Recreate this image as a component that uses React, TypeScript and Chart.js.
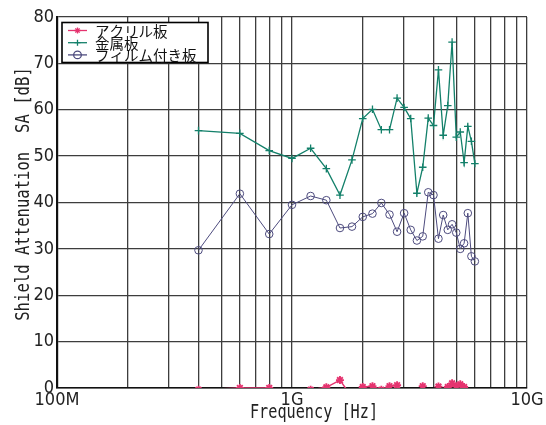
import { useEffect, useRef } from 'react';
import { Chart, registerables } from 'chart.js';

Chart.register(...registerables);

// Frequencies in Hz
const frequencies = [
  4.0e8, 6.0e8, 8.0e8, 1.0e9, 1.2e9, 1.4e9, 1.6e9, 1.8e9, 2.0e9, 2.2e9,
  2.4e9, 2.6e9, 2.8e9, 3.0e9, 3.2e9, 3.4e9, 3.6e9, 3.8e9, 4.0e9, 4.2e9,
  4.4e9, 4.6e9, 4.8e9, 5.0e9, 5.2e9, 5.4e9, 5.6e9, 5.8e9, 6.0e9,
];

// アクリル板 (values below 0 are hidden under the axis)
const acrylic = [
  -0.4, 0.0, 0.0, -2.0, -0.4, 0.15, 1.7, -2.0, 0.2, 0.4,
  -0.4, 0.4, 0.6, -2.0, -2.0, -2.0, 0.4, -2.0, -2.0, 0.3,
  -2.0, 0.2, 1.0, 0.4, 0.8, 0.2, -2.0, -2.0, -2.0,
];

// 金属板
const metal = [
  55.5, 54.9, 51.2, 49.5, 51.7, 47.3, 41.6, 49.2, 58.1, 60.1,
  55.7, 55.7, 62.5, 60.5, 58.1, 42.0, 47.6, 58.2, 56.6, 68.6,
  54.5, 60.9, 74.6, 54.1, 55.2, 48.6, 56.4, 53.2, 48.4,
];

// フィルム付き板
const film = [
  29.7, 41.9, 33.2, 39.5, 41.4, 40.5, 34.5, 34.8, 36.9, 37.6,
  39.9, 37.4, 33.7, 37.7, 34.1, 31.8, 32.7, 42.2, 41.6, 32.2,
  37.3, 34.1, 35.3, 33.5, 30.0, 31.2, 37.7, 28.4, 27.3,
];

const seriesNames = ['アクリル板', '金属板', 'フィルム付き板'];
const seriesColors = ['#e5336f', '#13806a', '#4d4b7e'];
const seriesMarkers = ['star', 'cross', 'circle'];

const xGridValues = [
  1e8, 2e8, 3e8, 4e8, 5e8, 6e8, 7e8, 8e8, 9e8,
  1e9, 2e9, 3e9, 4e9, 5e9, 6e9, 7e9, 8e9, 9e9, 1e10,
];
const xTickLabels: Record<string, string> = { '100000000': '100M', '1000000000': '1G', '10000000000': '10G' };
const yMin = 0;
const yMax = 80;
const yStep = 10;

const xTitle = 'Frequency [Hz]';
const yTitle = 'Shield Attenuation  SA [dB]';

function drawMarker(ctx: CanvasRenderingContext2D, style: string, x: number, y: number, r: number) {
  ctx.beginPath();
  if (style === 'circle') {
    ctx.arc(x, y, r, 0, Math.PI * 2);
  } else if (style === 'cross') {
    ctx.moveTo(x - r, y); ctx.lineTo(x + r, y);
    ctx.moveTo(x, y - r); ctx.lineTo(x, y + r);
  } else {
    for (let i = 0; i < 4; i++) {
      const a = (i * Math.PI) / 4;
      ctx.moveTo(x - Math.cos(a) * r, y - Math.sin(a) * r);
      ctx.lineTo(x + Math.cos(a) * r, y + Math.sin(a) * r);
    }
  }
  ctx.stroke();
}

const overlayPlugin = {
  id: 'overlay',
  afterDraw(chart: any) {
    const ctx: CanvasRenderingContext2D = chart.ctx;
    const area = chart.chartArea;
    // Legend box
    ctx.save();
    const bx = area.left + 5, by = area.top + 5.5, bw = 146, bh = 40;
    ctx.fillStyle = '#fff';
    ctx.fillRect(bx, by, bw, bh);
    ctx.strokeStyle = '#000';
    ctx.lineWidth = 1.6;
    ctx.strokeRect(bx, by, bw, bh);
    ctx.font = '14.5px "Noto Sans CJK JP"';
    ctx.textBaseline = 'middle';
    ctx.textAlign = 'left';
    seriesNames.forEach((name, i) => {
      const cy = by + 8 + i * 12.2;
      ctx.strokeStyle = seriesColors[i];
      ctx.lineWidth = 1.3;
      ctx.beginPath();
      ctx.moveTo(bx + 6, cy);
      ctx.lineTo(bx + 25, cy);
      ctx.stroke();
      drawMarker(ctx, seriesMarkers[i], bx + 15.5, cy, i === 2 ? 3.8 : 3);
      ctx.fillStyle = '#111';
      ctx.fillText(name, bx + 33, cy + 0.5);
    });
    ctx.restore();

    // Axis titles
    ctx.save();
    ctx.fillStyle = '#222';
    ctx.font = '20px "DejaVu Sans Mono"';
    ctx.textAlign = 'center';
    ctx.textBaseline = 'middle';
    ctx.translate(314, 412.5);
    ctx.scale(0.76, 1);
    ctx.fillText(xTitle, 0, 0);
    ctx.restore();

    ctx.save();
    ctx.fillStyle = '#222';
    ctx.font = '20px "DejaVu Sans Mono"';
    ctx.textAlign = 'center';
    ctx.textBaseline = 'middle';
    ctx.translate(24, 194);
    ctx.rotate(-Math.PI / 2);
    ctx.scale(0.78, 1);
    ctx.fillText(yTitle, 0, 0);
    ctx.restore();
  },
};

const tickFont = { family: '"Liberation Sans Narrow", "DejaVu Sans Condensed", "Roboto Condensed", sans-serif', size: 18 };

export default function App() {
  const ref = useRef<HTMLCanvasElement | null>(null);

  useEffect(() => {
    document.body.style.margin = '0';
    const canvas = ref.current;
    if (!canvas) return;
    const makeData = (vals: number[]) => frequencies.map((f, i) => ({ x: f, y: vals[i] }));
    const chart = new Chart(canvas, {
      type: 'line',
      data: {
        datasets: [
          {
            label: seriesNames[0],
            data: makeData(acrylic),
            borderColor: seriesColors[0],
            backgroundColor: seriesColors[0],
            borderWidth: 1.5,
            pointStyle: 'star',
            pointRadius: 4,
            pointBorderWidth: 1.9,
            pointBorderColor: seriesColors[0],
          },
          {
            label: seriesNames[1],
            data: makeData(metal),
            borderColor: seriesColors[1],
            backgroundColor: seriesColors[1],
            borderWidth: 1.3,
            pointStyle: 'cross',
            pointRadius: 3.8,
            pointBorderWidth: 1.3,
            pointBorderColor: seriesColors[1],
          },
          {
            label: seriesNames[2],
            data: makeData(film),
            borderColor: seriesColors[2],
            backgroundColor: 'rgba(0,0,0,0)',
            borderWidth: 1,
            pointStyle: 'circle',
            pointRadius: 3.8,
            pointBorderWidth: 1,
            pointBorderColor: seriesColors[2],
          },
        ],
      },
      options: {
        animation: false,
        responsive: false,
        maintainAspectRatio: false,
        layout: { padding: { top: 17, right: 19, left: 0, bottom: 0 } },
        plugins: {
          legend: { display: false },
          tooltip: { enabled: false },
          title: { display: false },
        },
        elements: { line: { tension: 0 } },
        scales: {
          x: {
            type: 'logarithmic',
            min: 1e8,
            max: 1e10,
            afterBuildTicks: (scale: any) => {
              scale.ticks = xGridValues.map((v) => ({ value: v }));
            },
            afterFit: (scale: any) => {
              scale.height = 37;
            },
            ticks: {
              autoSkip: false,
              maxRotation: 0,
              minRotation: 0,
              padding: 2,
              color: '#222',
              font: tickFont,
              callback: (value: any) => xTickLabels[String(Number(value))] ?? '',
            },
            grid: { color: '#3d3d3d', lineWidth: 1.3, drawTicks: false },
            border: { display: true, color: '#111', width: 1.6 },
          },
          y: {
            type: 'linear',
            min: yMin,
            max: yMax,
            afterFit: (scale: any) => {
              scale.width = 57;
            },
            ticks: {
              stepSize: yStep,
              padding: 3,
              color: '#222',
              font: tickFont,
            },
            grid: { color: '#3d3d3d', lineWidth: 1.3, drawTicks: false },
            border: { display: true, color: '#111', width: 2.2 },
          },
        },
      },
      plugins: [overlayPlugin],
    });
    return () => chart.destroy();
  }, []);

  return (
    <div style={{ width: 546, height: 425 }}>
      <canvas ref={ref} width={546} height={425} style={{ display: 'block', width: 546, height: 425 }} />
    </div>
  );
}
